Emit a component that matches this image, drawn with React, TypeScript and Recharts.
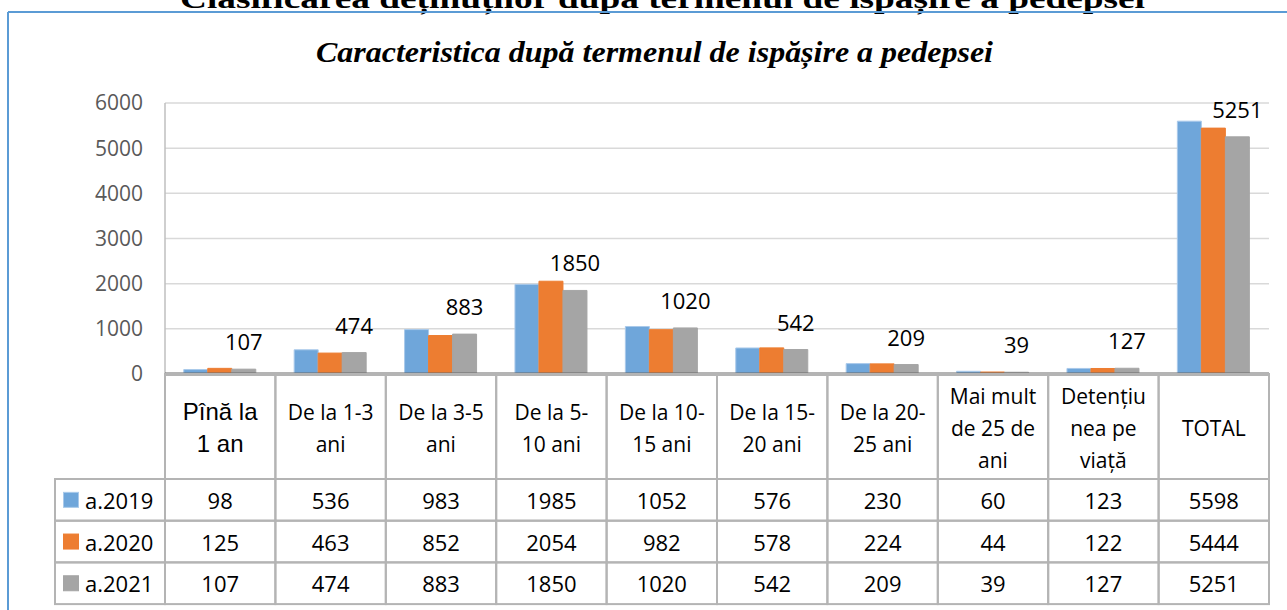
import { BarChart, Bar, XAxis, YAxis, CartesianGrid, LabelList } from "recharts";

const HEADER_LINES = [
  ["Pînă la", "1 an"],
  ["De la 1-3", "ani"],
  ["De la 3-5", "ani"],
  ["De la 5-", "10 ani"],
  ["De la 10-", "15 ani"],
  ["De la 15-", "20 ani"],
  ["De la 20-", "25 ani"],
  ["Mai mult", "de 25 de", "ani"],
  ["Detențiu", "nea pe", "viață"],
  ["TOTAL"],
];
const CATEGORIES = HEADER_LINES.map((l) => l.join(" "));

const Y2019 = [98, 536, 983, 1985, 1052, 576, 230, 60, 123, 5598];
const Y2020 = [125, 463, 852, 2054, 982, 578, 224, 44, 122, 5444];
const Y2021 = [107, 474, 883, 1850, 1020, 542, 209, 39, 127, 5251];
const Y_TICKS = [0, 1000, 2000, 3000, 4000, 5000, 6000];

const BLUE = "#6fa6da";
const ORANGE = "#ed7d31";
const GRAY = "#a5a5a5";

const SERIES = [
  { key: "a2019", name: "a.2019", color: BLUE, edge: "#a9c9ea", values: Y2019 },
  { key: "a2020", name: "a.2020", color: ORANGE, edge: ORANGE, values: Y2020 },
  { key: "a2021", name: "a.2021", color: GRAY, edge: GRAY, values: Y2021 },
];

const data = CATEGORIES.map((name, i) => {
  const row: Record<string, string | number> = { name };
  SERIES.forEach((s) => (row[s.key] = s.values[i]));
  return row;
});

const W = 1287;
const H = 610;
const MARGIN = { top: 103, right: 18, bottom: 6, left: 65 };
const Y_AXIS_W = 100;
const X_AXIS_H = 230;
const COL_W = (W - MARGIN.left - Y_AXIS_W - MARGIN.right) / CATEGORIES.length;
const HEADER_H = 105;
const ROW_H = 41.7;
const LINE_GAP = 32;
const BORDER = "#b4b4b4";
const FONT = "'Open Sans', sans-serif";

function TableTick(props: any) {
  const { x, y, payload } = props;
  const i = CATEGORIES.indexOf(payload.value);
  const left = x - COL_W / 2;
  const lines = HEADER_LINES[i] || [];
  const midY = y + HEADER_H / 2 + 1;
  const first = i === 0;

  return (
    <g>
      <rect x={left} y={y} width={COL_W} height={HEADER_H} fill="none" stroke={BORDER} strokeWidth={2} />
      <text
        textAnchor="middle"
        fontFamily={first ? "'Liberation Sans', Arial, sans-serif" : FONT}
        fontSize={first ? 24 : 21}
        fill="#000"
      >
        {lines.map((t, k) => (
          <tspan
            key={k}
            x={x}
            y={midY + (k - (lines.length - 1) / 2) * LINE_GAP}
            dominantBaseline="central"
          >
            {t}
          </tspan>
        ))}
      </text>
      {SERIES.map((s, r) => {
        const top = y + HEADER_H + r * ROW_H;
        return (
          <g key={s.key}>
            <rect x={left} y={top} width={COL_W} height={ROW_H} fill="none" stroke={BORDER} strokeWidth={2} />
            <text
              x={x}
              y={top + ROW_H / 2}
              textAnchor="middle"
              dominantBaseline="central"
              fontFamily={FONT}
              fontSize={22}
              fill="#000"
            >
              {s.values[i]}
            </text>
            {first && (
              <g>
                <rect x={left - 110} y={top} width={110} height={ROW_H} fill="none" stroke={BORDER} strokeWidth={2} />
                <rect
                  x={left - 101.5}
                  y={top + ROW_H / 2 - 7.5}
                  width={15}
                  height={15}
                  fill={s.color}
                  stroke={s.edge}
                  strokeWidth={1}
                />
                <text
                  x={left - 80}
                  y={top + ROW_H / 2}
                  dominantBaseline="central"
                  fontFamily={FONT}
                  fontSize={22}
                  fill="#000"
                >
                  {s.name}
                </text>
              </g>
            )}
          </g>
        );
      })}
    </g>
  );
}

export default function App() {
  return (
    <div style={{ position: "absolute", left: 0, top: 0, width: W, height: H, background: "#fff", overflow: "hidden" }}>
      <svg width={W} height={H} style={{ position: "absolute", left: 0, top: 0 }}>
        <text
          x={180}
          y={8}
          textLength={965}
          lengthAdjust="spacingAndGlyphs"
          fontFamily="'Liberation Serif', 'Times New Roman', serif"
          fontWeight="bold"
          fontSize={28}
          fill="#000"
        >
          Clasificarea deținuților după termenul de ispășire a pedepsei
        </text>
        <line x1={8} y1={12} x2={W} y2={12} stroke="#5b9bd5" strokeWidth={2} />
        <line x1={8} y1={12} x2={8} y2={H} stroke="#5b9bd5" strokeWidth={2} />
        <text
          x={316}
          y={62}
          textLength={677}
          lengthAdjust="spacingAndGlyphs"
          fontFamily="'Liberation Serif', 'Times New Roman', serif"
          fontWeight="bold"
          fontStyle="italic"
          fontSize={29}
          fill="#000"
        >
          Caracteristica după termenul de ispășire a pedepsei
        </text>
      </svg>
      <div style={{ position: "absolute", left: 0, top: 0 }}>
        <BarChart
          width={W}
          height={H}
          data={data}
          margin={MARGIN}
          barCategoryGap="17%"
          barGap={0}
        >
          <CartesianGrid vertical={false} stroke="#d9d9d9" strokeWidth={1.5} />
          <YAxis
            width={Y_AXIS_W}
            domain={[0, 6000]}
            ticks={Y_TICKS}
            interval={0}
            tickLine={false}
            tickSize={0}
            tickMargin={22}
            axisLine={{ stroke: "#bfbfbf", strokeWidth: 1.5 }}
            tick={{ fill: "#595959", fontSize: 21, fontFamily: FONT }}
          />
          <XAxis
            dataKey="name"
            height={X_AXIS_H}
            interval={0}
            tickLine={false}
            tickSize={0}
            tickMargin={0}
            axisLine={{ stroke: "#6b6b6b", strokeWidth: 3 }}
            tick={<TableTick />}
          />
          {SERIES.map((s) => (
            <Bar
              key={s.key}
              dataKey={s.key}
              name={s.name}
              fill={s.color}
              stroke={s.edge}
              strokeWidth={1}
              isAnimationActive={false}
            >
              {s.key === "a2021" && (
                <LabelList
                  dataKey={s.key}
                  position="top"
                  offset={19}
                  fill="#000"
                  stroke="none"
                  fontSize={22}
                  fontFamily={FONT}
                />
              )}
            </Bar>
          ))}
        </BarChart>
      </div>
    </div>
  );
}
